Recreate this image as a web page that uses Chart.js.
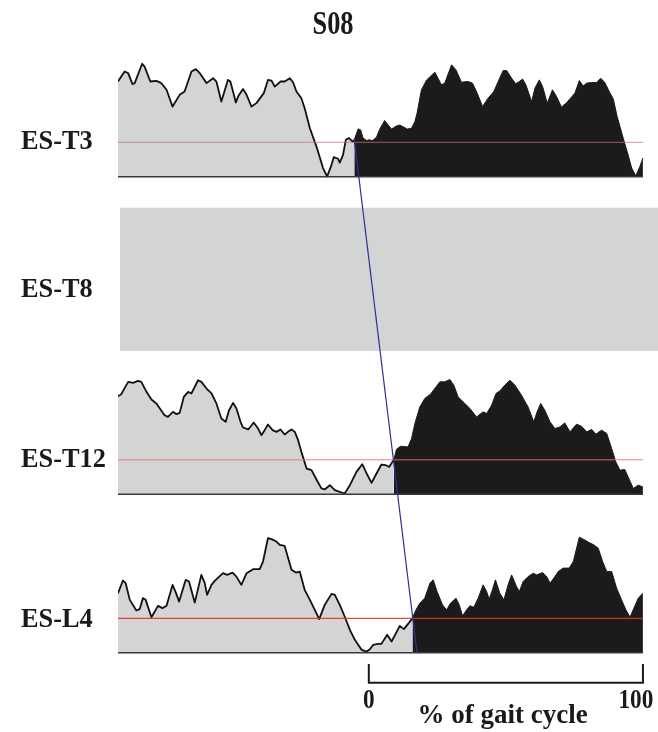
<!DOCTYPE html>
<html>
<head>
<meta charset="utf-8">
<title>S08</title>
<script src="https://cdn.jsdelivr.net/npm/chart.js@4.4.1/dist/chart.umd.min.js"></script>
<style>
  html, body { margin: 0; padding: 0; background: #fff; }
  #wrap { width: 658px; height: 732px; }
</style>
</head>
<body>
<div id="wrap"><canvas id="emg" width="658" height="732"></canvas></div>
<script>
(function(){
  // ---- data: [% of gait cycle, % of peak envelope] ----
  const TITLE = 'S08';
  const THRESHOLD = 30;            // activation threshold, % of peak
  const ROW_STEP = 138;            // vertical spacing between muscle rows (y units)

  const t3Pre = [[-91.5,82.9],[-89.1,91.6],[-87.8,90.2],[-86.2,80.6],[-85.4,81.5],[-82.7,98.3],[-81.8,95.9],[-79.7,82.9],[-77.5,83.5],[-75.7,81.5],[-73.8,75.7],[-71.6,61.1],[-69,71.3],[-67.2,74.2],[-64.7,91.6],[-63.1,93.7],[-61.7,90.2],[-59.2,81.5],[-56.8,85.8],[-55.6,82.9],[-53.8,65.5],[-51.4,84.3],[-50.5,82.9],[-48.5,64.6],[-47.7,69.8],[-45.9,76.3],[-44.6,71.3],[-42.8,61.1],[-41,64.1],[-38.3,72.8],[-36.8,84.3],[-35.5,83.7],[-34.3,78.5],[-32.2,82.9],[-30.7,82.9],[-28.8,85.8],[-27.6,82],[-26.4,74.2],[-24.6,68.4],[-23.4,59.7],[-21.5,42.3],[-19.1,26.3],[-16.7,7.6],[-15.2,0.3],[-13.6,10.4],[-12.8,17.1],[-11.2,15.7],[-10.6,12.4],[-9.4,19.1],[-8.4,32.2],[-7.2,33.7],[-5.9,30.7],[-5.3,32.2]];
  const t3Post = [[-5.3,32.2],[-3.9,41.7],[-3,40.9],[-2.1,33.7],[-0.8,31.6],[0.1,32.2],[1.4,31.6],[2.8,34.5],[4,41.5],[5.8,49],[7,45.2],[8.3,41.5],[10.1,44.3],[11.3,45],[12.8,43.2],[14,41.5],[15.6,42.3],[16.8,48.1],[17.6,55.4],[19.2,75.7],[21.1,84.3],[24.1,91],[26.5,80],[27.7,81.5],[30.2,97.4],[31.8,93],[33.8,82.3],[36.2,82.9],[37.8,81.5],[39.3,74.2],[41.5,61.1],[43.5,68.4],[45.6,74.2],[47.2,82.9],[49,92.4],[50.3,92.4],[52.1,85.8],[53.6,80.9],[54.9,82.9],[56.1,85],[57.3,80],[59.4,65.5],[60.6,77.1],[62.2,84.3],[63.4,78.5],[65.1,64.1],[67,75.7],[68.5,69.8],[70.3,60.6],[72.2,64.6],[73.6,68.4],[75.2,72.8],[76.8,83.7],[78.2,79.1],[79.5,81.5],[81.3,82],[83.1,82],[84.6,85.8],[86.1,82],[88,72.8],[89.2,67.6],[90.6,52.4],[92.8,33.7],[94.6,19.1],[95.9,7.6],[97.4,0.9],[98.9,9],[100,16.3]];

  const t12Pre = [[-91.5,85.2],[-90.3,87],[-87.8,97.7],[-86,96.8],[-84.2,98.5],[-83,97.7],[-81.1,89],[-79.3,82.3],[-77.5,78.9],[-74.5,68.7],[-73.3,67.2],[-71.4,71.6],[-70.2,69.6],[-69,70.7],[-67.5,84.6],[-65.9,89],[-64.7,87.6],[-62.3,99.1],[-61.1,97.7],[-59.2,91.9],[-57.4,87.6],[-55.6,78.9],[-53.8,65.8],[-52.2,62.9],[-51,73],[-49.5,79.4],[-48.3,74.5],[-46.8,62.9],[-45.9,58],[-44,56.3],[-42,62.3],[-40.4,57.1],[-39.2,51.3],[-38,55.7],[-36.8,60.6],[-35.1,55.7],[-33.7,54.2],[-32.2,56.3],[-30.7,51.9],[-29.5,54.2],[-28.2,56.3],[-27,54.2],[-25.8,47],[-24.6,36.8],[-22.7,22.3],[-20.9,20.9],[-19.1,12.8],[-17.3,5],[-16.1,4.1],[-14.2,7.8],[-12.4,3.5],[-10.6,2],[-8.8,0.6],[-6.9,7.8],[-4.5,19.4],[-2.4,26.1],[-0.8,18],[1,9.8],[2.8,18],[4.6,25.8],[6.2,25.2],[7.4,23.7],[8.6,28.1],[9.1,29.6]];
  const t12Post = [[9.1,29.6],[10.1,39.1],[11.6,41.7],[14.3,41.1],[15.6,48.4],[16.8,61.5],[18.6,75.9],[20.4,83.2],[22.5,87],[24.5,93.3],[25.9,97.7],[27.7,97.7],[29.6,99.7],[31,94.8],[32.6,84.6],[34.4,80.3],[36.9,74.5],[39.3,67.2],[41.7,71.6],[43,70.2],[44.8,77.4],[46.4,87.6],[47.8,89.8],[49.6,94.8],[51.5,99.1],[53.3,94.8],[55.7,86.1],[58.1,75.9],[60.2,62.9],[61.4,71.6],[62.7,78.9],[64.2,73],[66.1,62.9],[67.9,57.1],[69.7,58.5],[71.5,62],[73.4,54.2],[75.8,60.9],[77.6,59.1],[79.5,54.2],[81.3,56.3],[82.8,52.2],[84.9,55.7],[86.8,52.8],[88.6,39.7],[90.1,28.1],[91.6,20.9],[93.4,21.5],[94.6,15],[96.5,5],[98.3,7.8],[100,6.3]];

  const l4Pre = [[-91.5,51.9],[-89.7,62.9],[-88.7,60.6],[-87.2,46.1],[-84.8,36.8],[-83.6,38],[-82.4,47.6],[-81.4,46.1],[-79.3,31],[-76.9,40.9],[-75.3,38.9],[-73.8,40.9],[-71.6,59.1],[-70.4,52.4],[-69.2,44.6],[-66.8,63.5],[-65.6,62],[-63.5,43.7],[-61.1,67.8],[-59.9,61.1],[-59,50.4],[-57.4,59.1],[-56.2,62.6],[-53.2,69.3],[-51.7,67.8],[-49.7,69.8],[-48.3,66.3],[-46.5,59.1],[-44.6,69.3],[-42.2,72.8],[-39.8,72.8],[-38.6,79.4],[-36.8,99.7],[-35.5,98.9],[-33.7,96.8],[-32.5,93.9],[-30.7,93],[-28.2,72.2],[-26.6,69.8],[-25.2,70.7],[-23.4,54.8],[-21.5,46.1],[-19.7,37.4],[-18.1,29.3],[-16.1,41.7],[-13.6,51.3],[-12.4,50.4],[-10.6,41.7],[-8.8,31.6],[-6.9,20],[-5.1,11.3],[-3.9,7],[-2.6,2.6],[-0.8,1.1],[0.4,3.2],[1.6,7],[3.4,7.8],[4.6,7.8],[6.7,15.7],[8.3,9.8],[11.3,23.5],[12.8,20.6],[14.7,26.3],[15.9,30.2]];
  const l4Post = [[15.9,30.2],[17.2,37.4],[18.6,43.2],[20.4,47.6],[22.3,60.6],[23.5,63.5],[24.9,53.3],[26.9,41.7],[28.4,37.4],[29.8,43.2],[31.8,47.6],[33,41.7],[34.2,32.2],[35.7,37.4],[36.9,40.9],[38.3,39.7],[39.9,47.6],[41.7,59.1],[43,53.3],[43.9,46.7],[45.1,54.8],[46.2,63.5],[47.8,51.9],[49.3,46.1],[50.8,59.1],[52.1,67.8],[53.9,57.7],[54.9,53.3],[56.3,62],[58.1,66.3],[60,69.3],[61.2,67.8],[63.4,69.8],[64.9,66.3],[66.1,60.6],[67.5,65],[69.1,70.7],[70.9,73.7],[73.1,73.7],[74.6,79.4],[76.8,100.6],[78.2,98.9],[80.4,95.9],[82.1,93.9],[83.7,91],[85.3,79.4],[86.8,70.7],[88.6,70.7],[90.4,56.3],[92.2,46.1],[93.8,37.4],[95.3,31],[96.7,38.9],[98.3,47.6],[100,51.9]];

  // ES-T8: no usable signal, drawn as a shaded block [pct from, pct to] x [amp low, amp high]
  const t8Span = [-90.8, 105.5];
  const t8Range = [-13.4, 111];

  // onset line through the activation onsets, top row to bottom baseline
  const onsetPct = [-5.3, 17.6];
  const onsetY = [3 * ROW_STEP + 32.2, -0.3];

  const scaleBarPct = [0, 100];
  const scaleBarY = [-9.6, -26.1];
  const TRACE_SPAN = [-91.5, 100];

  const rows = [
    { label: 'ES-T3',  offset: 3 * ROW_STEP, pre: t3Pre,  post: t3Post,  thr: 'rgba(185,120,110,0.75)', thrW: 1,   labelY: 149 },
    { label: 'ES-T8',  offset: 2 * ROW_STEP, labelY: 297 },
    { label: 'ES-T12', offset: 1 * ROW_STEP, pre: t12Pre, post: t12Post, thr: 'rgba(240,110,110,0.6)',  thrW: 1.5, labelY: 467 },
    { label: 'ES-L4',  offset: 0,            pre: l4Pre,  post: l4Post,  thr: 'rgba(232,50,40,0.9)',    thrW: 1.2, labelY: 627 }
  ];

  const colors = { rest: '#d3d4d4', active: '#1b1b1b', trace: '#111', base: '#3a3a3a', onset: '#2e3192', text: '#1a1a1a' };
  const shift = (pts, off) => pts.map(p => ({ x: p[0], y: p[1] + off }));

  const datasets = [];
  rows.forEach(r => {
    if (!r.pre) {
      datasets.push({
        data: [{ x: t8Span[0], y: r.offset + t8Range[1] }, { x: t8Span[1], y: r.offset + t8Range[1] }],
        borderWidth: 0, backgroundColor: colors.rest, fill: { value: r.offset + t8Range[0] }, order: 5
      });
      return;
    }
    datasets.push({
      data: shift(r.pre, r.offset), borderColor: colors.trace, borderWidth: 1.8,
      backgroundColor: colors.rest, fill: { value: r.offset }, order: 4
    });
    datasets.push({
      data: shift(r.post, r.offset), borderColor: colors.active, borderWidth: 1,
      backgroundColor: colors.active, fill: { value: r.offset }, order: 4
    });
    datasets.push({
      data: TRACE_SPAN.map(x => ({ x, y: r.offset })), borderColor: colors.base, borderWidth: 1.5, fill: false, order: 3
    });
    datasets.push({
      data: TRACE_SPAN.map(x => ({ x, y: r.offset + THRESHOLD })), borderColor: r.thr, borderWidth: r.thrW, fill: false, order: 2
    });
  });

  datasets.push({
    data: onsetPct.map((x, i) => ({ x, y: onsetY[i] })), borderColor: colors.onset, borderWidth: 1.2, fill: false, order: 1
  });
  datasets.push({
    data: [
      { x: scaleBarPct[0], y: scaleBarY[0] }, { x: scaleBarPct[0], y: scaleBarY[1] },
      { x: scaleBarPct[1], y: scaleBarY[1] }, { x: scaleBarPct[1], y: scaleBarY[0] }
    ],
    borderColor: colors.text, borderWidth: 2, fill: false, order: 1, borderJoinStyle: 'miter'
  });

  // titles, row names and scale bar labels
  const textPlugin = {
    id: 'emgText',
    afterDraw(chart) {
      const ctx = chart.ctx;
      const xs = chart.scales.x;
      const text = (s, x, y, size, align, sx) => {
        ctx.save();
        ctx.font = `bold ${size}px "Liberation Serif", "Times New Roman", serif`;
        ctx.fillStyle = colors.text;
        ctx.textAlign = align;
        ctx.textBaseline = 'alphabetic';
        ctx.translate(x, y);
        ctx.scale(sx, 1);
        ctx.fillText(s, 0, 0);
        ctx.restore();
      };
      text(TITLE, 333, 34, 33, 'center', 0.8);
      rows.forEach(r => text(r.label, 21, r.labelY, 28, 'left', 0.94));
      text(String(scaleBarPct[0]), xs.getPixelForValue(scaleBarPct[0]), 708, 27, 'center', 0.86);
      text(String(scaleBarPct[1]), xs.getPixelForValue(scaleBarPct[1]) - 7, 708, 27, 'center', 0.86);
      text('% of gait cycle', xs.getPixelForValue(48.8), 723, 27, 'center', 1);
    }
  };

  new Chart(document.getElementById('emg').getContext('2d'), {
    type: 'line',
    data: { datasets },
    options: {
      responsive: false,
      animation: false,
      devicePixelRatio: 1,
      layout: { padding: { left: 118, right: 0, top: 40, bottom: 32 } },
      elements: { point: { radius: 0 }, line: { tension: 0, borderJoinStyle: 'round' } },
      scales: {
        x: { type: 'linear', min: -91.5, max: 105.5, display: false },
        y: { type: 'linear', min: -41, max: 533, display: false }
      },
      plugins: { legend: { display: false }, tooltip: { enabled: false } }
    },
    plugins: [textPlugin]
  });
})();
</script>
</body>
</html>
